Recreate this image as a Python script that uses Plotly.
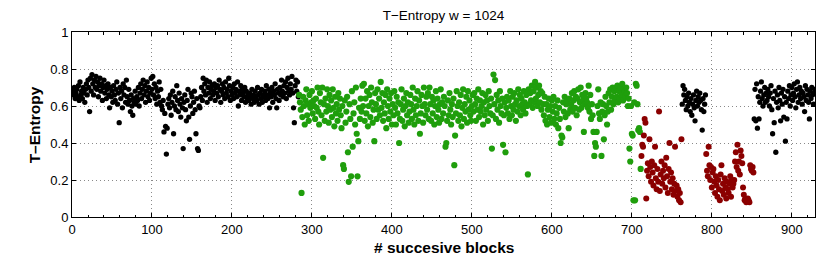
import plotly.graph_objects as go

# ---------------- data ----------------
black1_start = 1
black1 = [
    0.68,0.66,0.70,0.64,0.67,0.69,0.65,0.71,0.63,0.73,0.66,0.68,0.64,0.70,0.67,0.62,0.69,0.72,0.66,0.74,
    0.70,0.57,0.75,0.68,0.77,0.72,0.66,0.74,0.70,0.76,0.69,0.73,0.65,0.71,0.75,0.68,0.72,0.63,0.70,0.74,
    0.67,0.71,0.64,0.69,0.72,0.66,0.59,0.70,0.65,0.68,0.62,0.71,0.66,0.63,0.69,0.73,0.61,0.67,0.51,0.70,
    0.64,0.68,0.59,0.72,0.66,0.70,0.62,0.74,0.65,0.61,0.69,0.63,0.57,0.66,0.60,0.55,0.64,0.62,0.68,0.61,
    0.65,0.63,0.70,0.60,0.67,0.72,0.64,0.69,0.74,0.66,0.71,0.62,0.68,0.73,0.65,0.70,0.63,0.67,0.75,0.69,
    0.76,0.66,0.72,0.64,0.70,0.61,0.68,0.65,0.73,0.62,0.69,0.60,0.58,0.63,0.46,0.56,0.49,0.34,0.48,0.61,
    0.64,0.59,0.66,0.55,0.62,0.68,0.45,0.60,0.65,0.58,0.71,0.63,0.57,0.67,0.61,0.54,0.64,0.59,0.37,0.62,
    0.66,0.58,0.52,0.63,0.69,0.54,0.42,0.60,0.67,0.65,0.56,0.62,0.68,0.58,0.45,0.64,0.37,0.36,0.60,0.59,
    0.65,0.70,0.63,0.75,0.68,0.72,0.66,0.74,0.62,0.70,0.67,0.73,0.64,0.69,0.71,0.66,0.68,0.72,0.63,0.70,
    0.67,0.71,0.65,0.74,0.69,0.62,0.68,0.72,0.66,0.70,0.64,0.73,0.67,0.69,0.65,0.75,0.71,0.63,0.68,0.66,
    0.70,0.64,0.72,0.67,0.69,0.65,0.73,0.60,0.68,0.66,0.71,0.63,0.69,0.67,0.65,0.70,0.62,0.68,0.64,0.66,
    0.63,0.67,0.65,0.61,0.69,0.64,0.66,0.62,0.68,0.65,0.63,0.70,0.66,0.61,0.67,0.64,0.69,0.62,0.66,0.65,
    0.68,0.63,0.71,0.66,0.64,0.69,0.59,0.67,0.65,0.70,0.62,0.68,0.66,0.72,0.64,0.59,0.69,0.67,0.63,0.70,
    0.66,0.74,0.68,0.65,0.71,0.67,0.73,0.64,0.70,0.75,0.68,0.66,0.72,0.69,0.76,0.67,0.59,0.51,0.71,0.74,
    0.68,0.73,0.65,
]

green_start = 284
green = [
    0.66,0.62,0.58,0.13,0.54,0.65,0.60,0.50,0.63,0.69,0.55,0.61,0.52,0.66,0.59,0.62,0.68,0.56,0.63,0.60,
    0.53,0.64,0.59,0.70,0.57,0.50,0.67,0.62,0.55,0.70,0.32,0.61,0.52,0.64,0.57,0.69,0.60,0.51,0.66,0.58,
    0.63,0.54,0.69,0.59,0.49,0.65,0.56,0.61,0.52,0.67,0.58,0.64,0.55,0.48,0.60,0.28,0.26,0.63,0.51,0.57,
    0.65,0.35,0.19,0.61,0.53,0.22,0.68,0.38,0.56,0.62,0.50,0.70,0.45,0.22,0.41,0.59,0.53,0.64,0.57,0.71,
    0.60,0.72,0.52,0.64,0.56,0.68,0.49,0.60,0.66,0.54,0.70,0.62,0.51,0.58,0.41,0.67,0.61,0.53,0.69,0.58,
    0.64,0.55,0.73,0.59,0.67,0.52,0.62,0.56,0.66,0.48,0.69,0.60,0.53,0.64,0.57,0.67,0.50,0.61,0.55,0.68,
    0.59,0.50,0.65,0.56,0.62,0.40,0.53,0.61,0.69,0.52,0.58,0.64,0.49,0.60,0.67,0.55,0.62,0.51,0.57,0.66,
    0.61,0.53,0.70,0.58,0.50,0.64,0.55,0.60,0.68,0.52,0.63,0.45,0.56,0.66,0.60,0.51,0.70,0.61,0.55,0.65,
    0.58,0.67,0.53,0.70,0.61,0.52,0.65,0.56,0.63,0.50,0.60,0.68,0.54,0.64,0.58,0.51,0.61,0.69,0.53,0.62,
    0.56,0.65,0.60,0.38,0.40,0.52,0.63,0.55,0.67,0.58,0.50,0.61,0.54,0.64,0.28,0.44,0.56,0.68,0.60,0.52,
    0.62,0.55,0.66,0.49,0.59,0.69,0.53,0.61,0.57,0.65,0.51,0.68,0.58,0.63,0.55,0.52,0.60,0.66,0.57,0.67,
    0.61,0.52,0.64,0.58,0.69,0.54,0.63,0.57,0.60,0.67,0.50,0.62,0.55,0.66,0.58,0.63,0.52,0.68,0.60,0.56,
    0.64,0.37,0.55,0.77,0.61,0.74,0.53,0.66,0.58,0.63,0.51,0.68,0.60,0.56,0.64,0.39,0.55,0.62,0.35,0.59,
    0.65,0.56,0.63,0.53,0.68,0.60,0.55,0.65,0.58,0.67,0.61,0.52,0.63,0.57,0.69,0.60,0.66,0.55,0.64,0.61,
    0.58,0.68,0.62,0.56,0.66,0.60,0.23,0.69,0.61,0.67,0.63,0.71,0.59,0.68,0.62,0.73,0.64,0.70,0.60,0.66,
    0.71,0.62,0.68,0.58,0.67,0.61,0.55,0.65,0.52,0.61,0.50,0.58,0.64,0.54,0.60,0.51,0.63,0.57,0.65,0.53,
    0.60,0.50,0.56,0.63,0.48,0.59,0.53,0.40,0.44,0.43,0.62,0.57,0.65,0.54,0.61,0.63,0.56,0.48,0.64,0.58,
    0.61,0.67,0.57,0.63,0.68,0.59,0.65,0.55,0.64,0.69,0.58,0.62,0.70,0.59,0.66,0.63,0.46,0.61,0.67,0.64,
    0.62,0.59,0.71,0.57,0.66,0.53,0.61,0.55,0.46,0.33,0.40,0.38,0.46,0.60,0.69,0.56,0.53,0.62,0.33,0.57,
    0.61,0.42,0.55,0.65,0.60,0.50,0.57,0.67,0.62,0.69,0.58,0.65,0.70,0.61,0.68,0.63,0.70,0.65,0.71,0.62,
    0.68,0.64,0.70,0.66,0.72,0.63,0.69,0.68,0.65,0.70,0.67,0.60,0.64,0.37,0.30,0.60,0.45,0.44,0.09,0.62,
    0.09,0.72,0.71,0.61,0.47,0.48,0.46,0.26,
]

red1_start = 712
red1 = [
    0.33,0.39,0.38,0.44,0.53,0.51,0.10,0.25,0.29,0.22,0.42,0.27,0.19,0.30,0.24,0.17,0.28,0.38,0.21,0.15,
    0.26,0.19,0.57,0.14,0.23,0.30,0.18,0.25,0.21,0.28,0.16,0.32,0.22,0.13,0.26,0.40,0.19,0.24,0.15,0.21,
    0.12,0.18,0.38,0.14,0.17,0.11,0.15,0.09,0.13,0.08,0.42,
]

black2_start = 763
black2 = [
    0.61,0.71,0.66,0.69,0.63,0.58,0.65,0.60,0.67,0.62,0.57,0.64,0.55,0.61,0.66,0.59,0.52,0.63,0.68,0.60,
    0.65,0.62,0.67,0.63,0.58,0.47,0.64,0.57,0.61,0.66,
]

red2_start = 793
red2 = [
    0.34,0.25,0.22,0.38,0.28,0.20,0.27,0.16,0.24,0.26,0.19,0.13,0.22,0.17,0.11,0.20,0.15,0.09,0.23,0.28,
    0.14,0.18,0.12,0.21,0.16,0.10,0.19,0.15,0.13,0.18,0.22,0.11,0.20,0.16,0.18,0.20,0.30,0.35,0.27,0.39,
    0.25,0.30,0.23,0.36,0.33,0.29,0.16,0.12,0.09,0.10,0.08,0.09,0.10,0.09,0.08,0.28,0.26,0.25,0.27,0.24,
]

black3_start = 853
black3 = [
    0.53,0.69,0.52,0.72,0.48,0.65,0.53,0.62,0.68,0.73,
    0.64,0.60,0.66,0.70,0.62,0.67,0.63,0.69,0.65,0.60,
    0.67,0.71,0.58,0.45,0.64,0.51,0.68,0.35,0.62,0.66,
    0.59,0.70,0.63,0.52,0.67,0.61,0.69,0.54,0.65,0.41,
    0.62,0.53,0.68,0.64,0.71,0.60,0.66,0.70,0.63,0.67,
    0.72,0.65,0.59,0.69,0.73,0.62,0.66,0.70,0.64,0.68,
    0.61,0.67,0.65,0.57,0.71,0.63,0.69,0.66,0.62,0.53,
    0.68,0.64,0.70,0.66,0.61,0.67,0.69,
]

x_ticks = [0, 100, 200, 300, 400, 500, 600, 700, 800, 900]
y_ticks = [0, 0.2, 0.4, 0.6, 0.8, 1]
y_tick_labels = ["0", "0.2", "0.4", "0.6", "0.8", "1"]

title_text = "T\u2212Entropy w = 1024"
x_label = "# succesive blocks"
y_label = "T\u2013Entropy"

# ---------------- figure ----------------
BLACK = "#000000"
GREEN = "#1f9e0c"
RED = "#8b0000"

segments = [
    (black1_start, black1, BLACK, 5.3),
    (green_start, green, GREEN, 6.2),
    (red1_start, red1, RED, 6.0),
    (black2_start, black2, BLACK, 5.3),
    (red2_start, red2, RED, 6.0),
    (black3_start, black3, BLACK, 5.3),
]

fig = go.Figure()
for start, ys, color, size in segments:
    xs = list(range(start, start + len(ys)))
    fig.add_trace(go.Scatter(
        x=xs, y=ys, mode="markers",
        marker=dict(color=color, size=size, line=dict(width=0)),
        showlegend=False, hoverinfo="x+y",
    ))

FONT = "Liberation Sans, Arial, Helvetica, sans-serif"
GRID = "#8a8a8a"

fig.update_layout(
    width=830, height=268,
    margin=dict(l=72, r=15, t=32, b=51),
    paper_bgcolor="white", plot_bgcolor="white",
    font=dict(family=FONT, size=13, color="black"),
    title=dict(text=title_text, x=0.5, xref="paper", xanchor="center",
               y=1 - 15 / 268, yref="container", yanchor="middle",
               font=dict(size=13.5, family=FONT, color="black")),
    annotations=[
        dict(text="<b>" + x_label + "</b>", xref="paper", yref="paper",
             x=0.5, y=-0.165, xanchor="center", yanchor="middle",
             showarrow=False, font=dict(size=15.5, family=FONT)),
        dict(text="<b>" + y_label + "</b>", xref="paper", yref="paper",
             x=-0.05, y=0.5, xanchor="center", yanchor="middle",
             textangle=-90, showarrow=False, font=dict(size=15.5, family=FONT)),
    ],
)

fig.update_xaxes(
    range=[0, 929], tickvals=x_ticks, ticktext=[str(v) for v in x_ticks],
    ticks="inside", ticklen=4, tickcolor="black", tickwidth=1,
    showline=True, linecolor="black", linewidth=1, mirror="allticks",
    showgrid=True, gridcolor=GRID, griddash="1px,3px", gridwidth=1,
    zeroline=False,
    minor=dict(dtick=20, tick0=0, ticks="inside", ticklen=2.5, tickcolor="black", showgrid=False),
    tickfont=dict(size=13),
)
fig.update_yaxes(
    range=[0, 1], tickvals=y_ticks, ticktext=y_tick_labels,
    ticks="inside", ticklen=4, tickcolor="black", tickwidth=1,
    showline=True, linecolor="black", linewidth=1, mirror="allticks",
    showgrid=True, gridcolor=GRID, griddash="1px,3px", gridwidth=1,
    zeroline=False,
    tickfont=dict(size=13),
)

fig.write_html("out.html",
               config={"displayModeBar": False},
               post_script="document.body.style.margin='0';document.body.style.padding='0';")
